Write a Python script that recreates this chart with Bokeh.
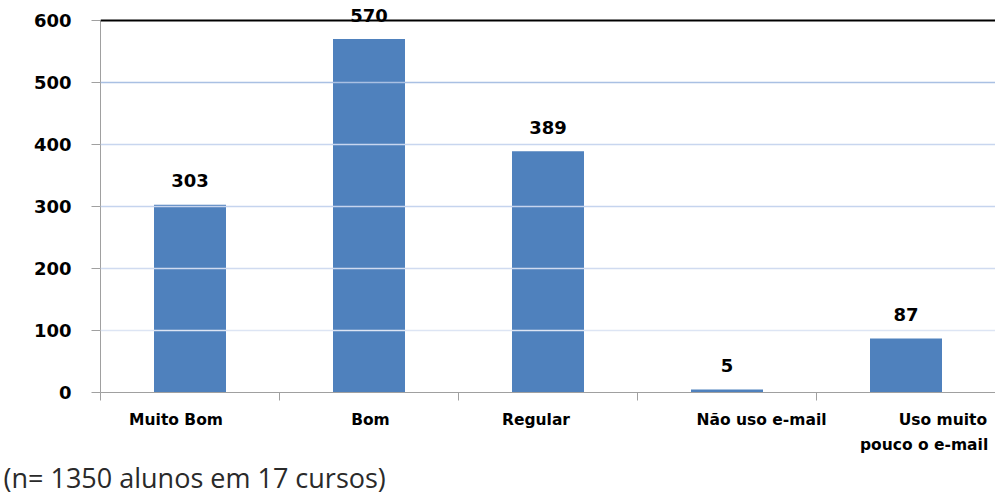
from bokeh.plotting import figure
from bokeh.models import (Range1d, FixedTicker, Span, ColumnDataSource, LinearAxis, Title)
from bokeh.core.properties import value
from bokeh.embed import file_html
from bokeh.resources import INLINE

# ---- data ----
categories = ["Muito Bom", "Bom", "Regular", "Não uso e-mail", "Uso muito pouco o e-mail"]
cat_labels = ["Muito Bom", "Bom", "Regular", "Não uso e-mail",
              "\u00a0\u00a0\u00a0\u00a0\u00a0\u00a0\u00a0Uso muito\npouco o e-mail"]
values = [303, 570, 389, 5, 87]
y_ticks = [0, 100, 200, 300, 400, 500, 600]
caption = "(n= 1350 alunos em 17 cursos)"

FONT = "DejaVu Sans"
BAR = "#4f81bd"

PX_PER_CAT = 179.0
PX_PER_UNIT = 372.0 / 600.0
n = len(categories)
xpos = [i + 0.5 for i in range(n)]
src = ColumnDataSource(dict(x=xpos, top=values, lab=[str(v) for v in values]))

p = figure(frame_width=895, frame_height=392, output_backend="svg", toolbar_location=None,
           x_range=Range1d(0, n), y_range=Range1d(0, y_ticks[-1] + 20 / PX_PER_UNIT),
           min_border_left=100, min_border_right=0, min_border_top=0,
           min_border_bottom=0, x_axis_location=None, y_axis_location=None)
p.outline_line_color = None
p.background_fill_color = "white"
p.border_fill_color = "white"

# y axis
ya = LinearAxis(ticker=FixedTicker(ticks=y_ticks), bounds=(0, y_ticks[-1]))
ya.axis_line_color = "#a0a0a0"
ya.major_tick_line_color = "#a0a0a0"
ya.major_tick_out = 9
ya.major_tick_in = 0
ya.minor_tick_line_color = None
ya.major_label_text_font = FONT
ya.major_label_text_font_style = "bold"
ya.major_label_text_font_size = "18px"
ya.major_label_text_color = "black"
ya.major_label_standoff = 20
p.add_layout(ya, "left")

# x axis: category labels (centre of each label relative to its bar centre, px)
label_shift_px = [-14, 1.5, -12, 34.5, 18]
label_ticks = [round(x + d / PX_PER_CAT, 3) for x, d in zip(xpos, label_shift_px)]
xa = LinearAxis(ticker=FixedTicker(ticks=label_ticks, minor_ticks=list(range(n + 1))))
xa.axis_line_color = "#a0a0a0"
xa.major_tick_line_color = None
xa.minor_tick_line_color = "#a0a0a0"
xa.minor_tick_out = 8
xa.minor_tick_in = 0
xa.major_label_overrides = {t: lab for t, lab in zip(label_ticks, cat_labels)}
xa.major_label_text_font = FONT
xa.major_label_text_font_style = "bold"
xa.major_label_text_font_size = "15.5px"
xa.major_label_text_line_height = 1.4
xa.major_label_text_color = "black"
xa.major_label_standoff = 10
p.add_layout(xa, "below")

p.xgrid.grid_line_color = None
p.ygrid.grid_line_color = None
grid_colors = ["#dde5f4", "#d0dbf0", "#c5d4ee", "#c8d6ef", "#a9c0e3"]
for t, c in zip(y_ticks[1:-1], grid_colors):
    p.add_layout(Span(location=t, dimension="width", line_color=c, line_width=1.5))
p.add_layout(Span(location=y_ticks[-1], dimension="width", line_color="black", line_width=2))

p.vbar(x="x", top="top", width=72 / PX_PER_CAT, bottom=0, source=src,
       fill_color=BAR, line_color=None)

p.text(x="x", y="top", text="lab", source=src, text_align="center",
       text_baseline="alphabetic", y_offset=-24, text_font=value(FONT),
       text_font_style="bold", text_font_size="18px", text_color="black")

p.add_layout(Title(text=caption, align="left", offset=-97, text_font="Open Sans",
                   text_font_style="normal", text_font_size="27px",
                   text_color="#2a2a2a", standoff=0), "below")

open("out.html", "w").write(file_html(p, INLINE))
